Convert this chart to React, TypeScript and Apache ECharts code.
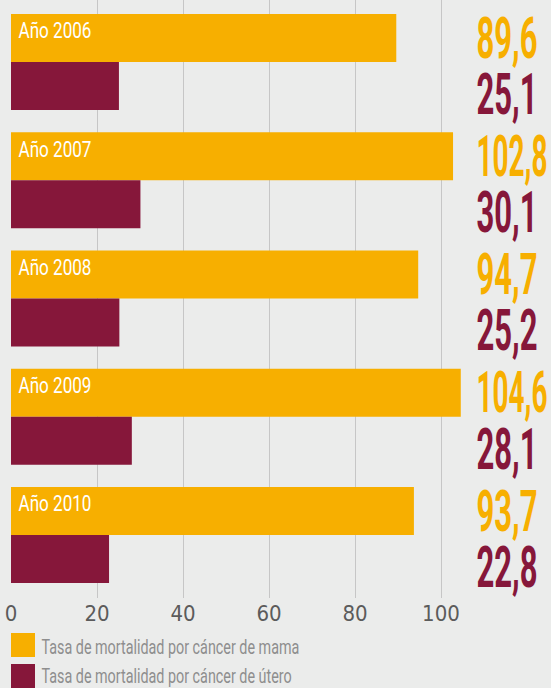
import React, { useEffect, useRef } from "react";
import * as echarts from "echarts";

const years = ["2006", "2007", "2008", "2009", "2010"];
const mama = [89.6, 102.8, 94.7, 104.6, 93.7];
const utero = [25.1, 30.1, 25.2, 28.1, 22.8];
const seriesNames = [
  "Tasa de mortalidad por cáncer de mama",
  "Tasa de mortalidad por cáncer de útero",
];

const YELLOW = "#F7AF00";
const MAROON = "#86173A";
const BG = "#EBECEB";
const BAR = 48;
const X_MIN = 0;
const X_MAX = 105;
const X_STEP = 20;
const VALUE_FONT = "bold 58px Roboto";
const YEAR_FONT = "22px Roboto";
const LEGEND_FONT = "21px Roboto";

const fmt = (v: number) => v.toFixed(1).replace(".", ",");

let measureCtx: CanvasRenderingContext2D | null = null;
const measure = (text: string, font: string) => {
  if (!measureCtx) measureCtx = document.createElement("canvas").getContext("2d");
  measureCtx!.font = font;
  return measureCtx!.measureText(text).width || 1;
};

export default function App() {
  const ref = useRef<HTMLDivElement>(null);
  useEffect(() => {
    const chart = echarts.init(ref.current!, null, { renderer: "svg" });
    const narrow = '"Liberation Sans Narrow", "DejaVu Sans Condensed", sans-serif';
    const valueScale = 61 / measure("89,6", VALUE_FONT);
    const yearScale = 73 / measure("Año 2006", YEAR_FONT);
    const legendScale = 258 / measure(seriesNames[0], LEGEND_FONT);
    const valueText = (v: number, x: number, y: number, color: string) => {
      const t = fmt(v);
      const w = measure(t, VALUE_FONT);
      const s = Math.min(valueScale, 71 / w);
      return {
        type: "text",
        x,
        y,
        scaleX: s,
        style: {
          text: t,
          fill: color,
          font: VALUE_FONT,
          textAlign: "left",
          textVerticalAlign: "middle",
          align: "left",
          verticalAlign: "middle",
        },
      };
    };
    const gridW = (X_MAX - X_MIN) * 4.3;
    chart.setOption({
      animation: false,
      backgroundColor: BG,
      grid: [
        { left: 11, top: 3, width: gridW, height: 591, containLabel: false, outerBoundsMode: "none" },
        { left: 11, top: 0, width: gridW, height: 598, containLabel: false, outerBoundsMode: "none" },
      ],
      legend: {
        data: seriesNames,
        orient: "vertical",
        left: 11,
        top: 633,
        height: 80,
        padding: 0,
        itemWidth: 24,
        itemHeight: 24,
        itemGap: 7,
        icon: "rect",
        selectedMode: false,
        formatter: () => "",
        textStyle: { fontSize: 1 },
      },
      graphic: seriesNames.map((name, i) => ({
        type: "text",
        x: 41.5,
        y: 646 + i * 29,
        scaleX: legendScale,
        style: {
          text: name,
          fill: "#8e8e8e",
          font: LEGEND_FONT,
          textAlign: "left",
          textVerticalAlign: "middle",
          align: "left",
          verticalAlign: "middle",
        },
      })),
      xAxis: [
        {
          type: "value",
          gridIndex: 0,
          min: X_MIN,
          max: X_MAX,
          interval: X_STEP,
          show: false,
          splitLine: { show: false },
        },
        {
          type: "value",
          gridIndex: 1,
          min: X_MIN,
          max: X_MAX,
          interval: X_STEP,
          axisLine: { show: false },
          axisTick: { show: false },
          axisLabel: {
            color: "#5b5b5b",
            fontSize: 22,
            fontFamily: narrow,
            margin: 4,
            showMaxLabel: false,
          },
          splitLine: {
            show: true,
            showMinLine: false,
            showMaxLine: false,
            lineStyle: { color: "#c6c6c6", width: 1 },
          },
        },
      ],
      yAxis: [
        { type: "category", gridIndex: 0, data: years, inverse: true, show: false },
        { type: "value", gridIndex: 1, show: false, splitLine: { show: false } },
      ],
      series: [
        {
          name: seriesNames[0],
          type: "bar",
          xAxisIndex: 0,
          yAxisIndex: 0,
          data: mama,
          barWidth: BAR,
          barGap: "0%",
          itemStyle: { color: YELLOW },
        },
        {
          name: seriesNames[1],
          type: "bar",
          xAxisIndex: 0,
          yAxisIndex: 0,
          data: utero,
          barWidth: BAR,
          barGap: "0%",
          itemStyle: { color: MAROON },
        },
        {
          type: "custom",
          xAxisIndex: 0,
          yAxisIndex: 0,
          silent: true,
          clip: false,
          z: 10,
          data: years.map((_, i) => [mama[i], i, utero[i]]),
          renderItem: (params: any, api: any) => {
            const idx = api.value(1);
            const c = api.coord([0, idx]);
            const yY = c[1] - BAR / 2;
            const yM = c[1] + BAR / 2;
            const xLab = api.coord([X_MAX, idx])[0] + 14;
            return {
              type: "group",
              children: [
                {
                  type: "text",
                  x: c[0] + 7.5,
                  y: yY - 7,
                  scaleX: yearScale,
                  style: {
                    text: "Año " + years[idx],
                    fill: "#ffffff",
                    font: YEAR_FONT,
                    textAlign: "left",
                    textVerticalAlign: "middle",
                    align: "left",
                    verticalAlign: "middle",
                  },
                },
                valueText(api.value(0), xLab, yY, YELLOW),
                valueText(api.value(2), xLab, yM + 8, MAROON),
              ],
            };
          },
        },
      ],
    });
    return () => chart.dispose();
  }, []);
  return (
    <div
      ref={ref}
      style={{ position: "fixed", left: 0, top: 0, width: 551, height: 688 }}
    />
  );
}
